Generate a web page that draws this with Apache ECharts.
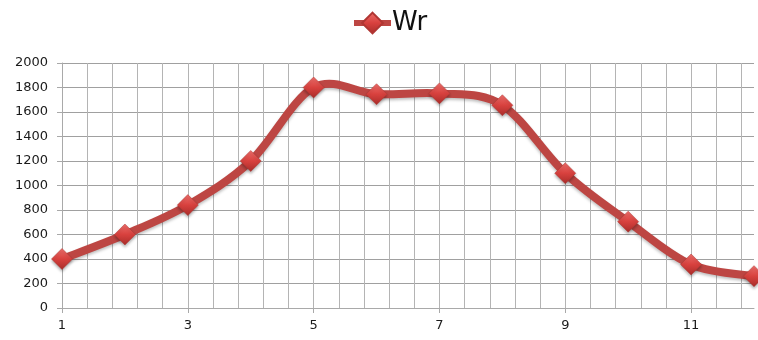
<!DOCTYPE html>
<html>
<head>
<meta charset="utf-8">
<script src="https://cdn.jsdelivr.net/npm/echarts@6/dist/echarts.min.js"></script>
<style>html,body{margin:0;padding:0;background:#fff}#c{width:758px;height:340px}</style>
</head>
<body>
<div id="c"></div>
<script>
var categories = ['1','2','3','4','5','6','7','8','9','10','11','12'];
var seriesName = 'Wr';
var wrValues = [400, 600, 840, 1200, 1800, 1745, 1752, 1655, 1100, 705, 355, 260];
var yTicks = [0, 200, 400, 600, 800, 1000, 1200, 1400, 1600, 1800, 2000];

var chart = echarts.init(document.getElementById('c'), null, {renderer: 'canvas'});
var gridColor = '#a9a9a9';
var lineColor = '#bd4643';
var font = 'DejaVu Sans';

// Excel-like smoothed curve (Bezier with control points at 1/6 of the neighbour chord),
// positioned through the chart's own axes via api.coord.
function renderCurve(params, api) {
  if (params.dataIndex !== 0) return;
  var pts = wrValues.map(function (v, i) { return api.coord([i, v]); });
  var n = pts.length;
  var d = 'M' + pts[0][0] + ' ' + pts[0][1];
  for (var i = 0; i < n - 1; i++) {
    var p0 = pts[Math.max(i - 1, 0)], p1 = pts[i], p2 = pts[i + 1], p3 = pts[Math.min(i + 2, n - 1)];
    var c1x = p1[0] + (p2[0] - p0[0]) / 6, c1y = p1[1] + (p2[1] - p0[1]) / 6;
    var c2x = p2[0] - (p3[0] - p1[0]) / 6, c2y = p2[1] - (p3[1] - p1[1]) / 6;
    d += ' C' + c1x + ' ' + c1y + ' ' + c2x + ' ' + c2y + ' ' + p2[0] + ' ' + p2[1];
  }
  return {
    type: 'path',
    shape: {pathData: d},
    style: {
      fill: null, stroke: lineColor, lineWidth: 8, lineJoin: 'round', lineCap: 'round',
      shadowColor: 'rgba(0,0,0,0.25)', shadowBlur: 3, shadowOffsetY: 2
    }
  };
}

chart.setOption({
  animation: false,
  backgroundColor: '#fff',
  legend: {
    data: [seriesName],
    left: 351, top: 10, padding: 0,
    itemWidth: 37, itemHeight: 26, itemGap: 10,
    lineStyle: {width: 6, opacity: 1, color: lineColor},
    textStyle: {fontFamily: font, fontSize: 26, color: '#111', padding: [0,0,0,-4]}
  },
  grid: {left: 62, right: 4, top: 63, bottom: 32, containLabel: false},
  xAxis: [{
    type: 'category',
    data: categories,
    boundaryGap: false,
    axisLine: {show: true, lineStyle: {color: gridColor, width: 1}},
    axisTick: {show: true, interval: 1, length: 5, lineStyle: {color: gridColor}},
    axisLabel: {interval: 1, fontFamily: font, fontSize: 13, color: '#1a1a1a', margin: 11},
    splitLine: {show: false}
  }, {
    type: 'value',
    min: 0, max: categories.length - 1, interval: 0.4,
    position: 'bottom',
    axisLine: {show: false}, axisTick: {show: false}, axisLabel: {show: false},
    splitLine: {show: true, showMaxLine: false, lineStyle: {color: '#b4b4b4', width: 1}}
  }],
  yAxis: {
    type: 'value',
    min: yTicks[0], max: yTicks[yTicks.length - 1], interval: yTicks[1] - yTicks[0],
    axisLine: {show: true, lineStyle: {color: gridColor, width: 1}},
    axisTick: {show: true, length: 5, lineStyle: {color: gridColor}},
    axisLabel: {fontFamily: font, fontSize: 13, color: '#1a1a1a', margin: 14, formatter: function (v) { return String(v); }},
    splitLine: {show: true, lineStyle: {color: '#a0a0a0', width: 1}}
  },
  series: [{
    name: 'WrCurve',
    type: 'custom',
    xAxisIndex: 0,
    data: wrValues.map(function (v, i) { return [i, v]; }),
    renderItem: renderCurve,
    clip: false,
    silent: true,
    z: 2
  }, {
    name: seriesName,
    type: 'line',
    xAxisIndex: 0,
    data: wrValues,
    symbol: 'diamond',
    symbolSize: 21,
    lineStyle: {color: lineColor, width: 0, opacity: 0},
    itemStyle: {
      color: new echarts.graphic.LinearGradient(0, 0, 0, 1, [
        {offset: 0, color: '#ee6f6c'}, {offset: 0.5, color: '#d8413e'}, {offset: 1, color: '#a82d2a'}
      ]),
      borderColor: '#b03633', borderWidth: 0.5,
      shadowColor: 'rgba(0,0,0,0.3)', shadowBlur: 3, shadowOffsetY: 2
    },
    z: 3
  }]
});
</script>
</body>
</html>
